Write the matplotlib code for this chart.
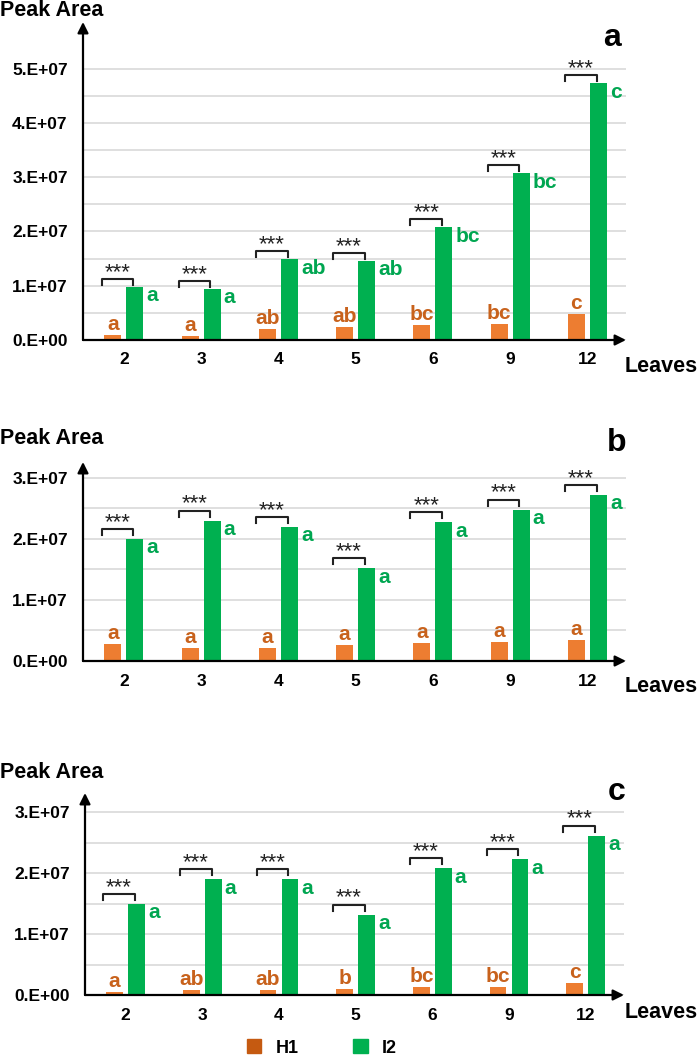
import matplotlib
matplotlib.use("Agg")
import matplotlib.pyplot as plt
import matplotlib.transforms as mtransforms
from matplotlib.patches import Patch

plt.rcParams["font.family"] = ["Liberation Sans", "DejaVu Sans"]

leaves = ["2", "3", "4", "5", "6", "9", "12"]

# panel a
h1_a = [1.0e6, 0.8e6, 2.0e6, 2.4e6, 2.8e6, 3.0e6, 4.8e6]
i2_a = [9.8e6, 9.4e6, 1.49e7, 1.46e7, 2.08e7, 3.07e7, 4.73e7]
h1_let_a = ["a", "a", "ab", "ab", "bc", "bc", "c"]
i2_let_a = ["a", "a", "ab", "ab", "bc", "bc", "c"]

# panel b
h1_b = [2.8e6, 2.1e6, 2.1e6, 2.6e6, 2.9e6, 3.1e6, 3.5e6]
i2_b = [2.0e7, 2.3e7, 2.2e7, 1.52e7, 2.27e7, 2.48e7, 2.72e7]
h1_let_b = ["a"] * 7
i2_let_b = ["a"] * 7

# panel c
h1_c = [0.5e6, 0.8e6, 0.8e6, 0.95e6, 1.3e6, 1.25e6, 1.9e6]
i2_c = [1.5e7, 1.9e7, 1.9e7, 1.32e7, 2.08e7, 2.23e7, 2.62e7]
h1_let_c = ["a", "ab", "ab", "b", "bc", "bc", "c"]
i2_let_c = ["a"] * 7

yticks_a = [0, 1e7, 2e7, 3e7, 4e7, 5e7]
yticks_bc = [0, 1e7, 2e7, 3e7]

ORANGE = "#ED7D31"
GREEN = "#00B050"
ORANGE_TXT = "#C8621C"
GREEN_TXT = "#00A651"
W, H = 700, 1061

fig = plt.figure(figsize=(W / 100, H / 100), dpi=100)


def px_axes(left, right, bottom, top):
    return fig.add_axes([left / W, 1 - bottom / H, (right - left) / W, (bottom - top) / H])


def draw_panel(ax, h1, i2, h1_let, i2_let, yticks, ytop, brk_off):
    x = list(range(len(leaves)))
    off, bw = 0.143, 0.22
    ax.bar([v - off for v in x], h1, bw, color=ORANGE, zorder=3)
    ax.bar([v + off for v in x], i2, bw, color=GREEN, zorder=3)
    ax.set_xlim(-0.53, 6.5)
    ax.set_ylim(0, ytop)

    # grid every half step up to last tick
    for k in range(2 * len(yticks) - 1):
        ax.axhline(k * 0.5e7, color="#D9D9D9", lw=1.2, zorder=1)

    ax.set_yticks(yticks)
    ax.set_yticklabels(["0.E+00" if t == 0 else f"{int(t / 1e7)}.E+07" for t in yticks],
                       fontsize=12.5, fontweight="bold")
    ax.set_xticks(x)
    ax.set_xticklabels(leaves, fontsize=12.5, fontweight="bold")
    ax.tick_params(length=0, pad=11)
    ax.tick_params(axis="x", pad=9)
    for s in ax.spines.values():
        s.set_visible(False)

    arrow = dict(arrowstyle="-|>", color="black", lw=1.6, mutation_scale=16, shrinkA=0, shrinkB=0)
    ax.annotate("", xy=(0, 1), xytext=(0, 0), xycoords="axes fraction", arrowprops=arrow)
    ax.annotate("", xy=(1, 0), xytext=(0, 0), xycoords="axes fraction", arrowprops=arrow)

    def shifted(dy):
        return mtransforms.offset_copy(ax.transData, fig=fig, x=0, y=dy, units="dots")

    inv = ax.transData.inverted()
    for i in x:
        # orange letters
        ax.text(i - off, h1[i], h1_let[i], transform=shifted(1), ha="center", va="bottom",
                fontsize=15, fontweight="bold", color=ORANGE_TXT, zorder=4)
        # green letters
        ax.text(i + off + bw / 2 + 0.04, i2[i], i2_let[i], transform=shifted(-9), ha="left",
                va="center", fontsize=15, fontweight="bold", color=GREEN_TXT, zorder=4)
        # significance bracket
        xl, xr = i - 0.29, i + 0.12
        t_top = shifted(brk_off)
        t_leg = shifted(brk_off - 6)
        pts = inv.transform([t_leg.transform((xl, i2[i])), t_top.transform((xl, i2[i])),
                             t_top.transform((xr, i2[i])), t_leg.transform((xr, i2[i]))])
        ax.plot(pts[:, 0], pts[:, 1], color="#222222", lw=1.5, zorder=4, clip_on=False)
        ax.text((xl + xr) / 2, i2[i], "***", transform=shifted(brk_off - 4), ha="center",
                va="bottom", fontsize=16, color="#222222", zorder=4)
    return ax


ax_a = px_axes(83, 626, 340, 22)
ax_b = px_axes(83, 626, 661, 462)
ax_c = px_axes(85, 624, 995, 793)

fig.canvas.draw()
draw_panel(ax_a, h1_a, i2_a, h1_let_a, i2_let_a, yticks_a, 5.86e7, 8)
draw_panel(ax_b, h1_b, i2_b, h1_let_b, i2_let_b, yticks_bc, 3.26e7, 10)
draw_panel(ax_c, h1_c, i2_c, h1_let_c, i2_let_c, yticks_bc, 3.32e7, 10)

# titles, axis names, panel tags (figure pixel positions)
for ytitle, yleaves, (tx, ty, tag) in [(10, 366, (612, 38, "a")),
                                       (438, 687, (617, 443, "b")),
                                       (772, 1013, (617, 792, "c"))]:
    fig.text(0 / W, 1 - ytitle / H, "Peak Area", fontsize=15.5, fontweight="bold", va="center", ha="left")
    fig.text(698 / W, 1 - yleaves / H, "Leaves", fontsize=15.5, fontweight="bold", va="center", ha="right")
    fig.text(tx / W, 1 - ty / H, tag, fontsize=23, fontweight="bold", va="center", ha="center")

handles = [Patch(color="#C55A11"), Patch(color=GREEN)]
fig.legend(handles, ["H1", "I2"], loc="center", bbox_to_anchor=(322 / W, 1 - 1048 / H), ncol=2,
           frameon=False, prop={"size": 13, "weight": "bold"}, handlelength=0.8, handleheight=0.8,
           columnspacing=3.0, handletextpad=0.8)

fig.savefig("out.png", dpi=100)
